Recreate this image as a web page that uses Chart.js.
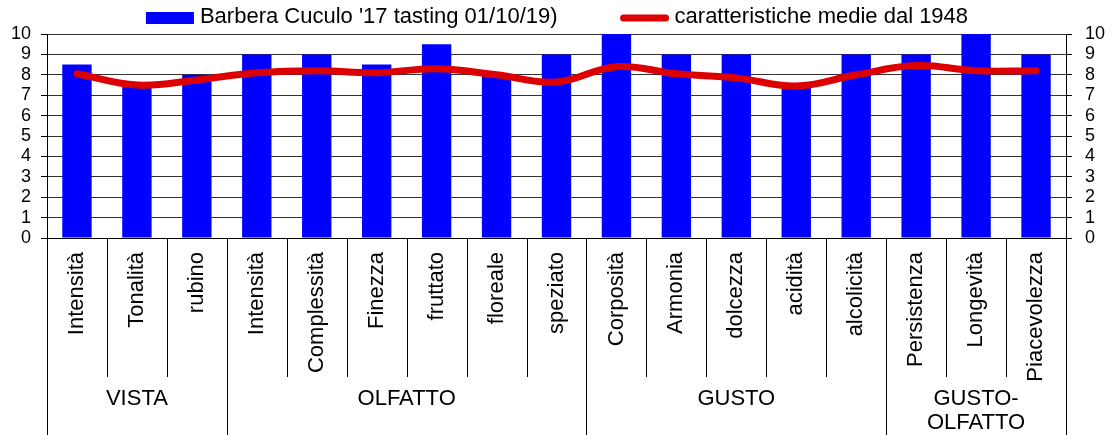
<!DOCTYPE html>
<html>
<head>
<meta charset="utf-8">
<script src="https://cdn.jsdelivr.net/npm/chart.js@4/dist/chart.umd.min.js"></script>
<style>
  html, body { margin: 0; padding: 0; background: #fff; }
  #wrap { width: 1114px; height: 435px; }
</style>
</head>
<body>
<div id="wrap"><canvas id="chartCanvas"></canvas></div>
<script>
const categories = ['Intensità', 'Tonalità', 'rubino', 'Intensità', 'Complessità', 'Finezza', 'fruttato',
  'floreale', 'speziato', 'Corposità', 'Armonia', 'dolcezza', 'acidità', 'alcolicità', 'Persistenza',
  'Longevità', 'Piacevolezza'];
const groupNames = ['VISTA', 'OLFATTO', 'GUSTO', ['GUSTO-', 'OLFATTO']];
const groupSizes = [3, 6, 5, 3];
const tastingValues = [8.5, 7.5, 8, 9, 9, 8.5, 9.5, 8, 9, 10, 9, 9, 7.5, 9, 9, 10, 9];
const averageValues = [8.05, 7.5, 7.75, 8.1, 8.2, 8.1, 8.3, 8.0, 7.65, 8.4, 8.05, 7.85, 7.45, 8.0, 8.45, 8.2, 8.2];
const yTicks = [0, 1, 2, 3, 4, 5, 6, 7, 8, 9, 10];

const BLUE = '#0000FF';
const RED = '#DD0000';
Chart.defaults.font.family = "'Liberation Sans', Arial, sans-serif";
Chart.defaults.color = '#000';

// legend, dividers under the axis and group names
const extras = {
  id: 'extras',
  afterDraw(chart) {
    const ctx = chart.ctx;
    const x = chart.scales.x;
    const area = chart.chartArea;
    const step = (x.right - x.left) / categories.length;
    const H = chart.height;
    ctx.save();
    ctx.strokeStyle = '#000';
    ctx.lineWidth = 1;
    let idx = 0;
    const edges = [0];
    groupSizes.forEach(n => { idx += n; edges.push(idx); });
    for (let i = 1; i < categories.length; i++) {
      const px = Math.round(x.left + i * step) + 0.5;
      ctx.beginPath();
      ctx.moveTo(px, area.bottom);
      ctx.lineTo(px, edges.includes(i) ? H : 377);
      ctx.stroke();
    }
    [x.left, x.right].forEach(e => {
      const px = Math.round(e) + 0.5;
      ctx.beginPath();
      ctx.moveTo(px, area.bottom);
      ctx.lineTo(px, H);
      ctx.stroke();
    });
    // group names
    ctx.fillStyle = '#000';
    ctx.font = "22px 'Liberation Sans', Arial, sans-serif";
    ctx.textAlign = 'center';
    ctx.textBaseline = 'middle';
    groupNames.forEach((g, k) => {
      const cx = x.left + (edges[k] + edges[k + 1]) / 2 * step;
      const lines = Array.isArray(g) ? g : [g];
      lines.forEach((t, j) => ctx.fillText(t, cx, 399 + j * 24));
    });
    // legend: bars first, then the line
    const ds = chart.data.datasets;
    const barDs = ds.find(d => d.type === 'bar');
    const lineDs = ds.find(d => d.type === 'line');
    const w1 = ctx.measureText(barDs.label).width;
    const w2 = ctx.measureText(lineDs.label).width;
    const total = 48 + 6 + w1 + 63 + 48 + 6 + w2;
    let lx = (chart.width - total) / 2;
    ctx.textAlign = 'left';
    ctx.fillStyle = barDs.backgroundColor;
    ctx.fillRect(lx, 12, 48, 12);
    ctx.fillStyle = '#000';
    ctx.fillText(barDs.label, lx + 54, 17);
    lx += 54 + w1 + 63;
    ctx.strokeStyle = lineDs.borderColor;
    ctx.lineWidth = 7;
    ctx.lineCap = 'round';
    ctx.beginPath();
    ctx.moveTo(lx + 3, 18);
    ctx.lineTo(lx + 45, 18);
    ctx.stroke();
    ctx.fillText(lineDs.label, lx + 54, 17);
    ctx.restore();
  }
};

const yTickOpts = (pad) => ({
  padding: pad,
  autoSkip: false,
  stepSize: 1,
  font: { size: 18 },
  color: '#000'
});

new Chart(document.getElementById('chartCanvas'), {
  data: {
    labels: categories,
    datasets: [
      {
        type: 'line',
        label: 'caratteristiche medie dal 1948',
        data: averageValues,
        borderColor: RED,
        borderWidth: 7,
        borderCapStyle: 'round',
        tension: 0.4,
        pointRadius: 0,
        yAxisID: 'y',
        order: 0
      },
      {
        type: 'bar',
        label: "Barbera Cuculo '17 tasting 01/10/19)",
        data: tastingValues,
        backgroundColor: BLUE,
        categoryPercentage: 1,
        barPercentage: 0.49,
        yAxisID: 'y',
        order: 1
      }
    ]
  },
  options: {
    responsive: true,
    maintainAspectRatio: false,
    animation: false,
    layout: { padding: { top: 34 } },
    plugins: {
      legend: { display: false },
      tooltip: { enabled: false }
    },
    scales: {
      x: {
        grid: { display: false },
        border: { display: true, color: '#000', width: 1 },
        ticks: {
          autoSkip: false,
          minRotation: 90,
          maxRotation: 90,
          padding: 6,
          font: { size: 22 },
          color: '#000'
        },
        afterFit(scale) { scale.height = 197; }
      },
      y: {
        position: 'left',
        min: yTicks[0],
        max: yTicks[yTicks.length - 1],
        grid: { color: '#333', tickLength: 6, tickColor: '#000' },
        border: { display: true, color: '#000' },
        ticks: yTickOpts(10),
        afterFit(scale) { scale.width = 47; }
      },
      y1: {
        position: 'right',
        min: yTicks[0],
        max: yTicks[yTicks.length - 1],
        grid: { drawOnChartArea: false, tickLength: 6, tickColor: '#000' },
        border: { display: true, color: '#000' },
        ticks: yTickOpts(13),
        afterFit(scale) { scale.width = 48; }
      }
    }
  },
  plugins: [extras]
});
</script>
</body>
</html>
